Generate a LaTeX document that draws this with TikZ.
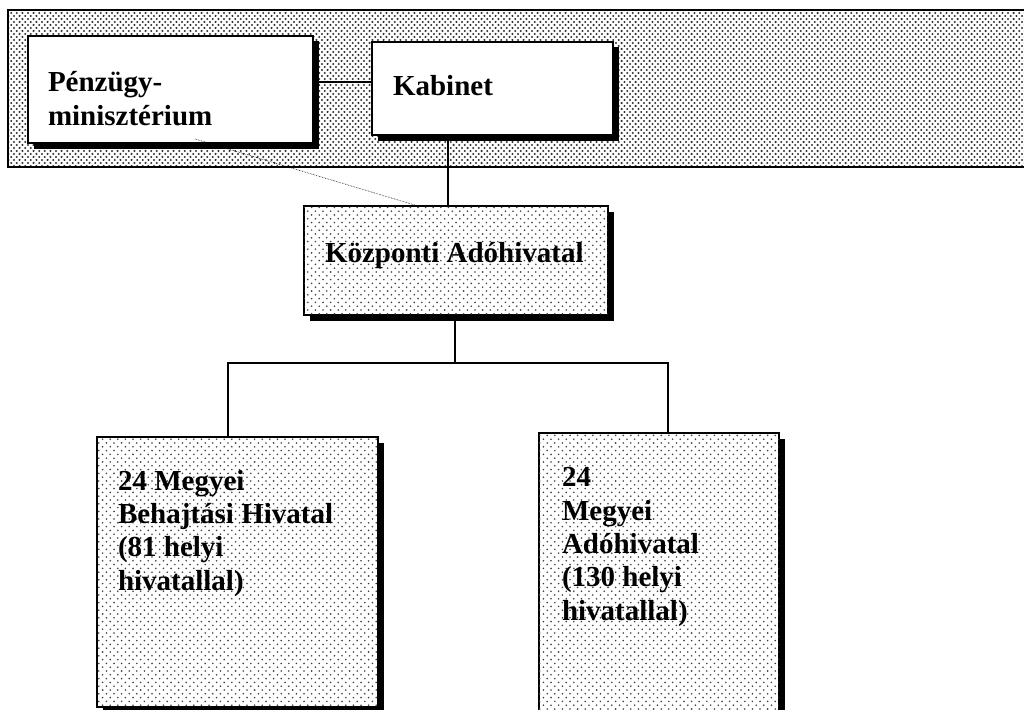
\documentclass[tikz,border=0pt]{standalone}
\usepackage{fontspec}
\setmainfont{Liberation Serif}
\usetikzlibrary{patterns,shadows}

% fine dot screen of the top band
\pgfdeclarepatternformonly{banddots}{\pgfqpoint{-1.5pt}{-1.5pt}}{\pgfqpoint{7pt}{7.5pt}}{\pgfqpoint{5.6pt}{6pt}}{%
  \pgfpathcircle{\pgfqpoint{0pt}{0pt}}{1.15pt}%
  \pgfpathcircle{\pgfqpoint{2.8pt}{3pt}}{1.15pt}%
  \pgfusepath{fill}}
% sparser dot screen of the office boxes
\pgfdeclarepatternformonly{boxdots}{\pgfqpoint{-1.5pt}{-1.5pt}}{\pgfqpoint{9pt}{9pt}}{\pgfqpoint{7.6pt}{7.6pt}}{%
  \pgfpathcircle{\pgfqpoint{0pt}{0pt}}{0.9pt}%
  \pgfpathcircle{\pgfqpoint{3.8pt}{3.8pt}}{0.9pt}%
  \pgfusepath{fill}}

\tikzset{
  orgbox/.style={draw=black, line width=1.5pt, inner sep=0pt, outer sep=0pt,
    drop shadow={shadow xshift=5.5pt, shadow yshift=-5.5pt, fill=black, opacity=1}},
  plainbox/.style={orgbox, fill=white},
  dotbox/.style={orgbox, fill=white, postaction={pattern=boxdots, pattern color=black!75}},
  boxtext/.style={anchor=base west, inner sep=0pt, outer sep=0pt, align=left,
    font=\fontsize{29}{33.3}\selectfont\bfseries},
  link/.style={line width=1.5pt},
  faintlink/.style={line width=0.6pt, densely dotted}
}

\begin{document}
\begin{tikzpicture}[x=1pt,y=-1pt]
\useasboundingbox (0,0) rectangle (1024,709);
\begin{scope}
\clip (0,0) rectangle (1024,709);

% shaded government band
\path[draw=black, line width=2pt, preaction={fill=white},
      pattern=banddots, pattern color=black!80] (8,10) rectangle (1040,167);

% boxes
\node[plainbox, minimum width=285pt, minimum height=107pt] (pm)   at (170.5,89.5) {};
\node[plainbox, minimum width=241pt, minimum height=93pt]  (kab)  at (492.5,88.5) {};
\node[dotbox,   minimum width=304pt, minimum height=109pt] (kozp) at (456,260.5) {};
\node[dotbox,   minimum width=281pt, minimum height=270pt] (behaj) at (237.5,572) {};
\node[dotbox,   minimum width=240pt, minimum height=282pt] (ado)  at (659,574) {};

% labels (the base anchor of a multi-line label sits on its last line)
\node[boxtext] (pmtext)   at (48,125)  {Pénzügy-\\minisztérium};
\node[boxtext] (kabtext)  at (393,95)  {Kabinet};
\node[boxtext] (kozptext) at (325,262) {Központi Adóhivatal};
\node[boxtext] (behajtext) at (118,590) {24 Megyei\\Behajtási Hivatal\\(81 helyi\\hivatallal)};
\node[boxtext] (adotext)  at (562,620) {24\\Megyei\\Adóhivatal\\(130 helyi\\hivatallal)};

% connector anchors
\coordinate (pmkab) at (0,82);
\coordinate (kabdown) at (448,0);
\coordinate (pmfoot) at (195,139);
\coordinate (diagend) at (418,0);
\coordinate (busM) at (455,363);
\coordinate (busL) at (228,363);
\coordinate (busR) at (668,363);

% connectors
\draw[link] (pm.east |- pmkab) -- (kab.west |- pmkab);
\draw[link] (kab.south -| kabdown) -- (kozp.north -| kabdown);
\draw[faintlink] (pmfoot) -- (kozp.north -| diagend);
\draw[link] (kozp.south -| busM) -- (busM);
\draw[link] (behaj.north -| busL) -- (busL) -- (busR) -- (ado.north -| busR);
\end{scope}
\end{tikzpicture}
\end{document}
